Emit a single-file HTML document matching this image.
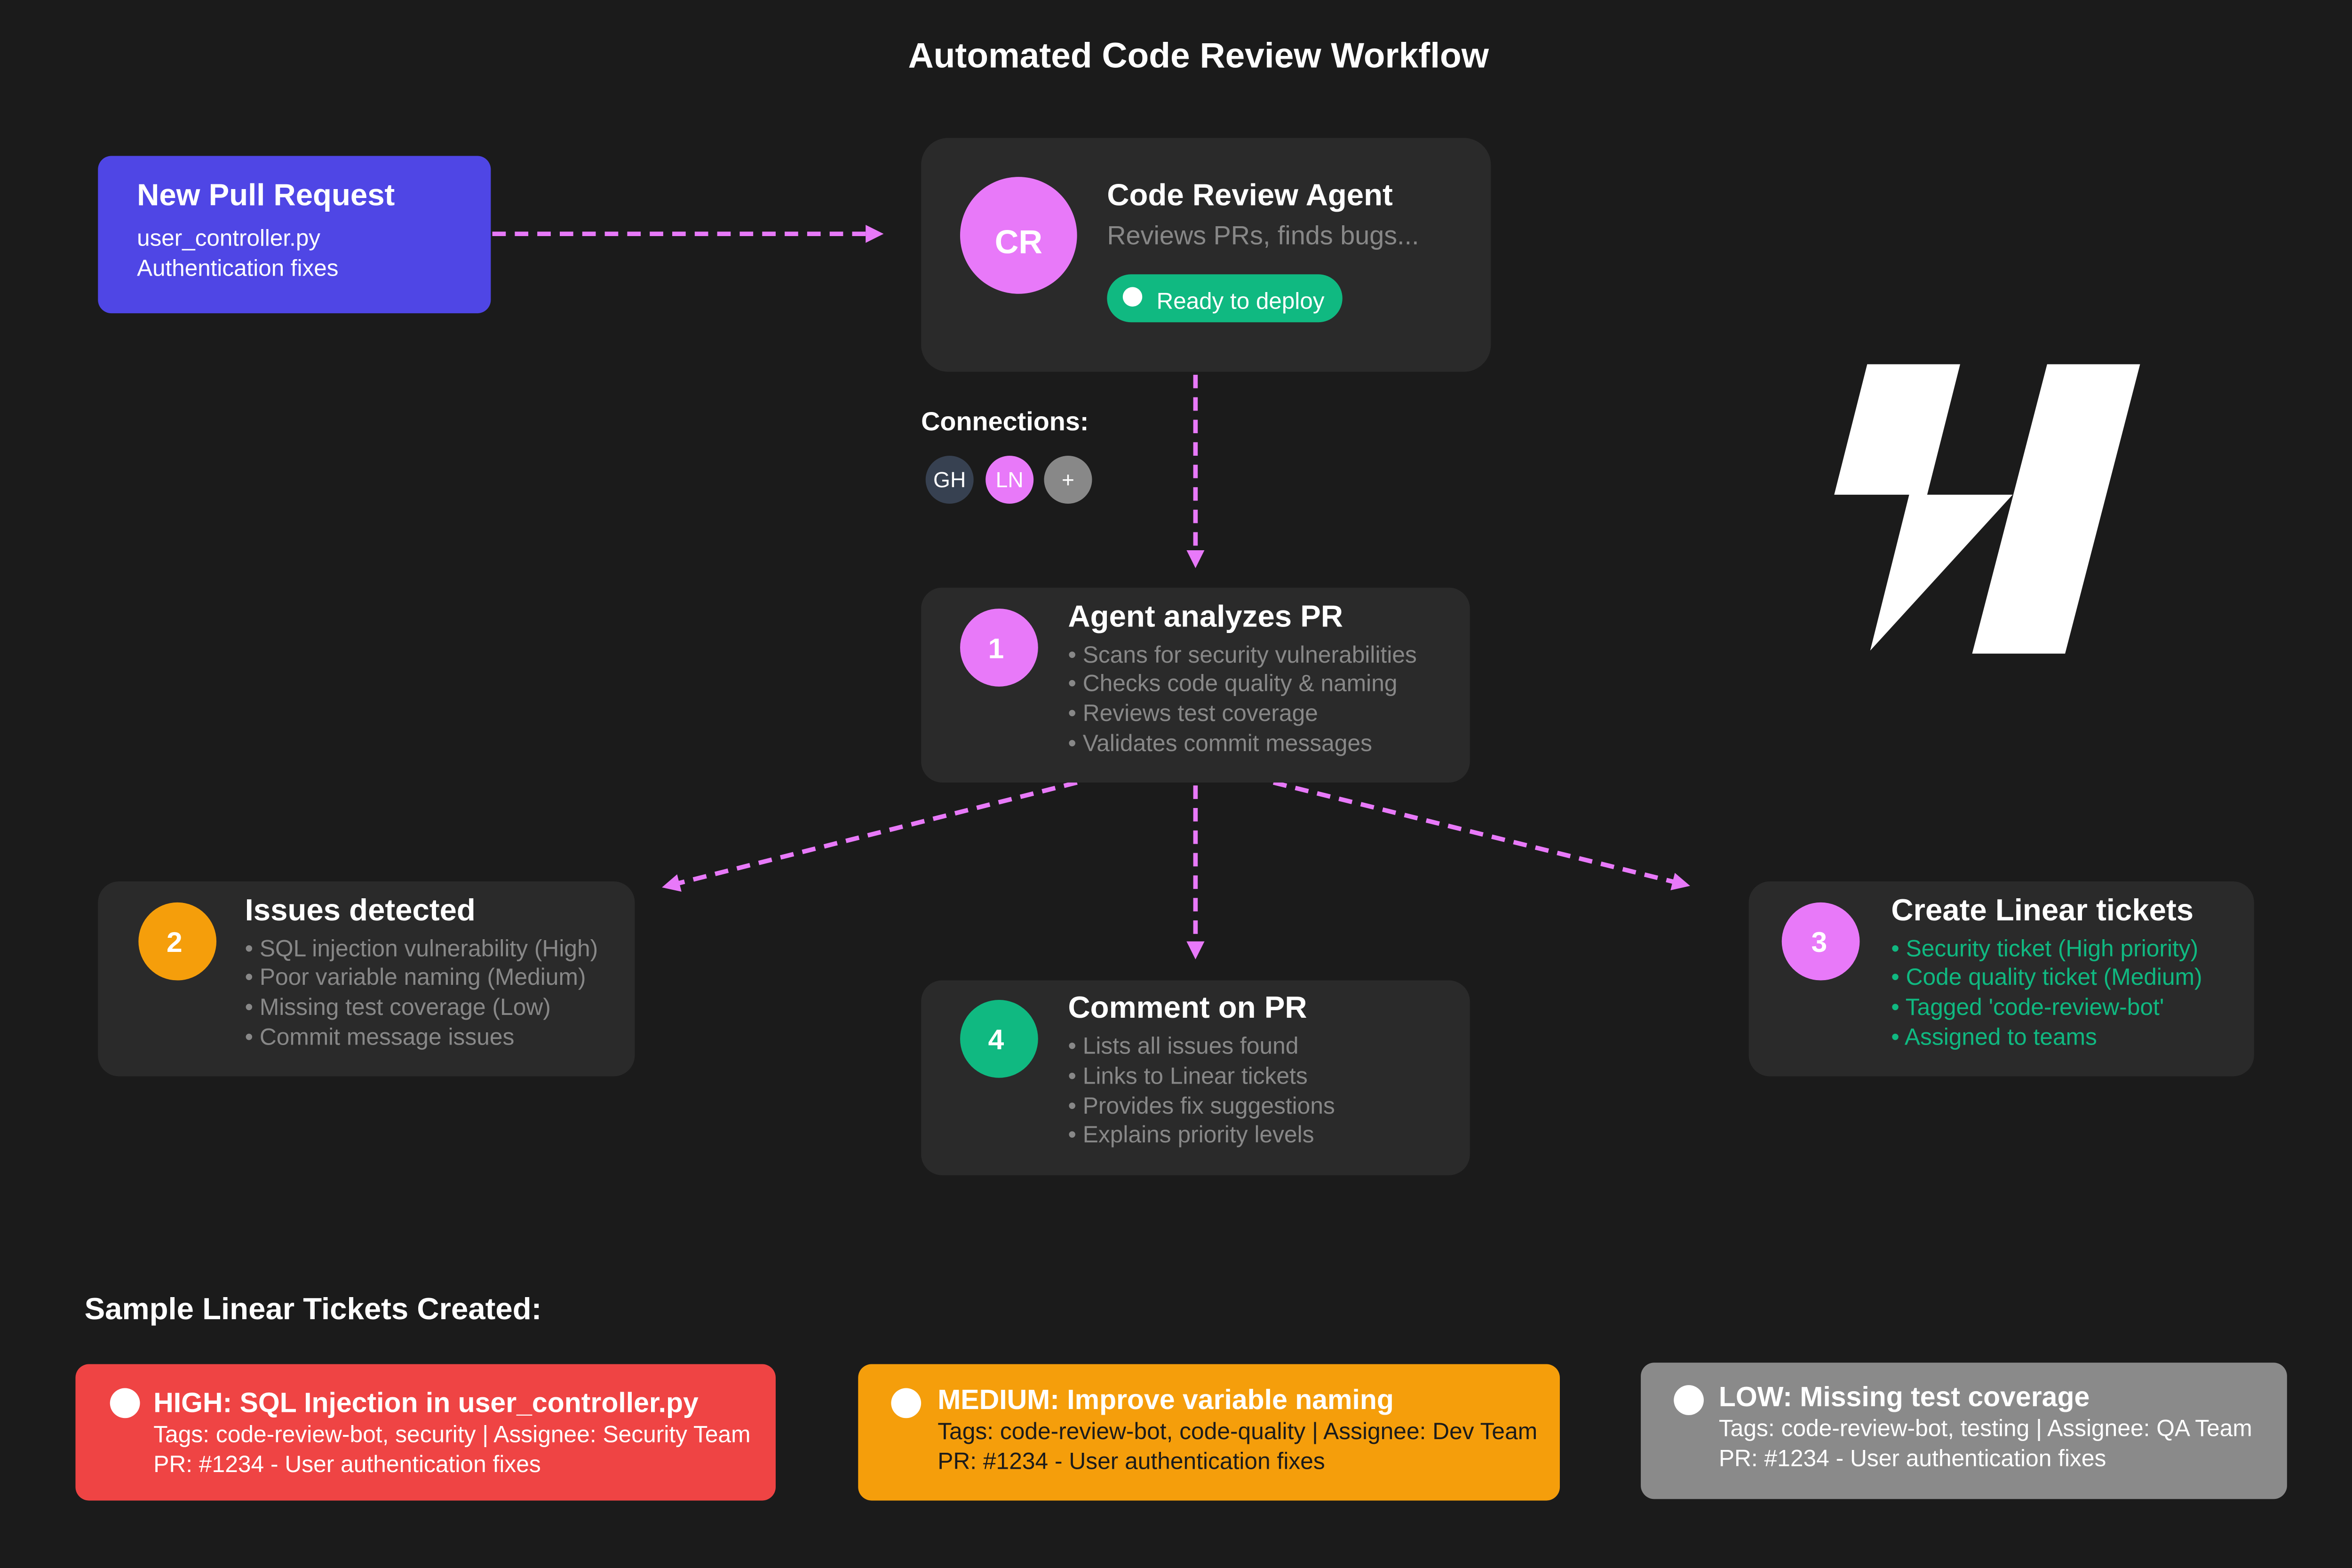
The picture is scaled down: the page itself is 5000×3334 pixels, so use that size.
<!DOCTYPE html>
<html><head><meta charset="utf-8"><style>
html,body{margin:0;padding:0;background:#1b1b1b;width:5000px;height:3334px;overflow:hidden}
svg{display:block}
text{font-family:"Liberation Sans",Arial,sans-serif}
</style></head><body>
<svg width="5000" height="3334" viewBox="0 0 1568 1046" xmlns="http://www.w3.org/2000/svg">
<defs>
<marker id="ah" markerWidth="12" markerHeight="12" refX="8" refY="6" orient="auto" markerUnits="userSpaceOnUse"><path d="M0,0 L12,6 L0,12 z" fill="#e879f9"/></marker>
</defs>
<rect width="1568" height="1046" fill="#1b1b1b"/>
<text x="799" y="45" text-anchor="middle" font-size="23.5" font-weight="bold" fill="#fff">Automated Code Review Workflow</text>

<rect x="65" y="104" width="262" height="105" rx="9" fill="#4f46e5"/>
<text x="91" y="137" font-size="20.5" font-weight="bold" fill="#fff">New Pull Request</text>
<text x="91" y="164" font-size="15.5" fill="#fff">user_controller.py</text>
<text x="91" y="184" font-size="15.5" fill="#fff">Authentication fixes</text>

<g stroke="#e879f9" stroke-width="3" stroke-dasharray="9 6" fill="none" marker-end="url(#ah)">
<line x1="328" y1="156" x2="585" y2="156"/>
<line x1="797" y1="250" x2="797" y2="375"/>
<line x1="718" y1="522" x2="445" y2="591"/>
<line x1="797" y1="524" x2="797" y2="636"/>
<line x1="849" y1="522" x2="1123" y2="590"/>
</g>

<rect x="614" y="92" width="380" height="156" rx="18" fill="#2a2a2a"/>
<circle cx="679" cy="157" r="39" fill="#e879f9"/>
<text x="679" y="169" text-anchor="middle" font-size="22" font-weight="bold" fill="#fff">CR</text>
<text x="738" y="137" font-size="20.5" font-weight="bold" fill="#fff">Code Review Agent</text>
<text x="738" y="163" font-size="17.5" fill="#888">Reviews PRs, finds bugs...</text>
<rect x="738" y="183" width="157" height="32" rx="16" fill="#10b981"/>
<circle cx="755" cy="198" r="6.5" fill="#fff"/>
<text x="771" y="206" font-size="15.5" fill="#fff">Ready to deploy</text>

<text x="614" y="287" font-size="17.5" font-weight="bold" fill="#fff">Connections:</text>
<circle cx="633" cy="320" r="16" fill="#374151"/><text x="633" y="325" text-anchor="middle" font-size="14.5" fill="#fff">GH</text>
<circle cx="673" cy="320" r="16" fill="#e879f9"/><text x="673" y="325" text-anchor="middle" font-size="14.5" fill="#fff">LN</text>
<circle cx="712" cy="320" r="16" fill="#888"/><text x="712" y="325" text-anchor="middle" font-size="14.5" fill="#fff">+</text>

<path d="M1245,243 L1307,243 L1285,330 L1342,330 L1247,434 L1273,330 L1223,330 Z" fill="#fff"/>
<path d="M1365,243 L1427,243 L1377,436 L1315,436 Z" fill="#fff"/>

<rect x="614" y="392" width="366" height="130" rx="14" fill="#2a2a2a"/>
<circle cx="666" cy="432" r="26" fill="#e879f9"/>
<text x="664" y="439" text-anchor="middle" font-size="19" font-weight="bold" fill="#fff">1</text>
<text x="712" y="418" font-size="20.5" font-weight="bold" fill="#fff">Agent analyzes PR</text>
<g font-size="15.6" fill="#888">
<text x="712" y="442">• Scans for security vulnerabilities</text>
<text x="712" y="461">• Checks code quality &amp; naming</text>
<text x="712" y="481">• Reviews test coverage</text>
<text x="712" y="501">• Validates commit messages</text>
</g>

<rect x="65" y="588" width="358" height="130" rx="14" fill="#2a2a2a"/>
<circle cx="118" cy="628" r="26" fill="#f59e0b"/>
<text x="116" y="635" text-anchor="middle" font-size="19" font-weight="bold" fill="#fff">2</text>
<text x="163" y="614" font-size="20.5" font-weight="bold" fill="#fff">Issues detected</text>
<g font-size="15.6" fill="#888">
<text x="163" y="638">• SQL injection vulnerability (High)</text>
<text x="163" y="657">• Poor variable naming (Medium)</text>
<text x="163" y="677">• Missing test coverage (Low)</text>
<text x="163" y="697">• Commit message issues</text>
</g>

<rect x="614" y="654" width="366" height="130" rx="14" fill="#2a2a2a"/>
<circle cx="666" cy="693" r="26" fill="#10b981"/>
<text x="664" y="700" text-anchor="middle" font-size="19" font-weight="bold" fill="#fff">4</text>
<text x="712" y="679" font-size="20.5" font-weight="bold" fill="#fff">Comment on PR</text>
<g font-size="15.6" fill="#888">
<text x="712" y="703">• Lists all issues found</text>
<text x="712" y="723">• Links to Linear tickets</text>
<text x="712" y="743">• Provides fix suggestions</text>
<text x="712" y="762">• Explains priority levels</text>
</g>

<rect x="1166" y="588" width="337" height="130" rx="14" fill="#2a2a2a"/>
<circle cx="1214" cy="628" r="26" fill="#e879f9"/>
<text x="1213" y="635" text-anchor="middle" font-size="19" font-weight="bold" fill="#fff">3</text>
<text x="1261" y="614" font-size="20.5" font-weight="bold" fill="#fff">Create Linear tickets</text>
<g font-size="15.6" fill="#10b981">
<text x="1261" y="638">• Security ticket (High priority)</text>
<text x="1261" y="657">• Code quality ticket (Medium)</text>
<text x="1261" y="677">• Tagged 'code-review-bot'</text>
<text x="1261" y="697">• Assigned to teams</text>
</g>

<text x="56" y="880" font-size="20.5" font-weight="bold" fill="#fff">Sample Linear Tickets Created:</text>

<rect x="50" y="910" width="467" height="91" rx="9" fill="#ef4444"/>
<circle cx="83" cy="936" r="10" fill="#fff"/>
<text x="102" y="942" font-size="18.5" font-weight="bold" fill="#fff">HIGH: SQL Injection in user_controller.py</text>
<text x="102" y="962" font-size="15.6" fill="#fff">Tags: code-review-bot, security | Assignee: Security Team</text>
<text x="102" y="982" font-size="15.6" fill="#fff">PR: #1234 - User authentication fixes</text>

<rect x="572" y="910" width="468" height="91" rx="9" fill="#f59e0b"/>
<circle cx="604" cy="936" r="10" fill="#fff"/>
<text x="625" y="940" font-size="18.5" font-weight="bold" fill="#fff">MEDIUM: Improve variable naming</text>
<text x="625" y="960" font-size="15.6" fill="#1b1b1b">Tags: code-review-bot, code-quality | Assignee: Dev Team</text>
<text x="625" y="980" font-size="15.6" fill="#1b1b1b">PR: #1234 - User authentication fixes</text>

<rect x="1094" y="909" width="431" height="91" rx="9" fill="#8a8a8a"/>
<circle cx="1126" cy="934" r="10" fill="#fff"/>
<text x="1146" y="938" font-size="18.5" font-weight="bold" fill="#fff">LOW: Missing test coverage</text>
<text x="1146" y="958" font-size="15.6" fill="#fff">Tags: code-review-bot, testing | Assignee: QA Team</text>
<text x="1146" y="978" font-size="15.6" fill="#fff">PR: #1234 - User authentication fixes</text>
</svg>
</body></html>
